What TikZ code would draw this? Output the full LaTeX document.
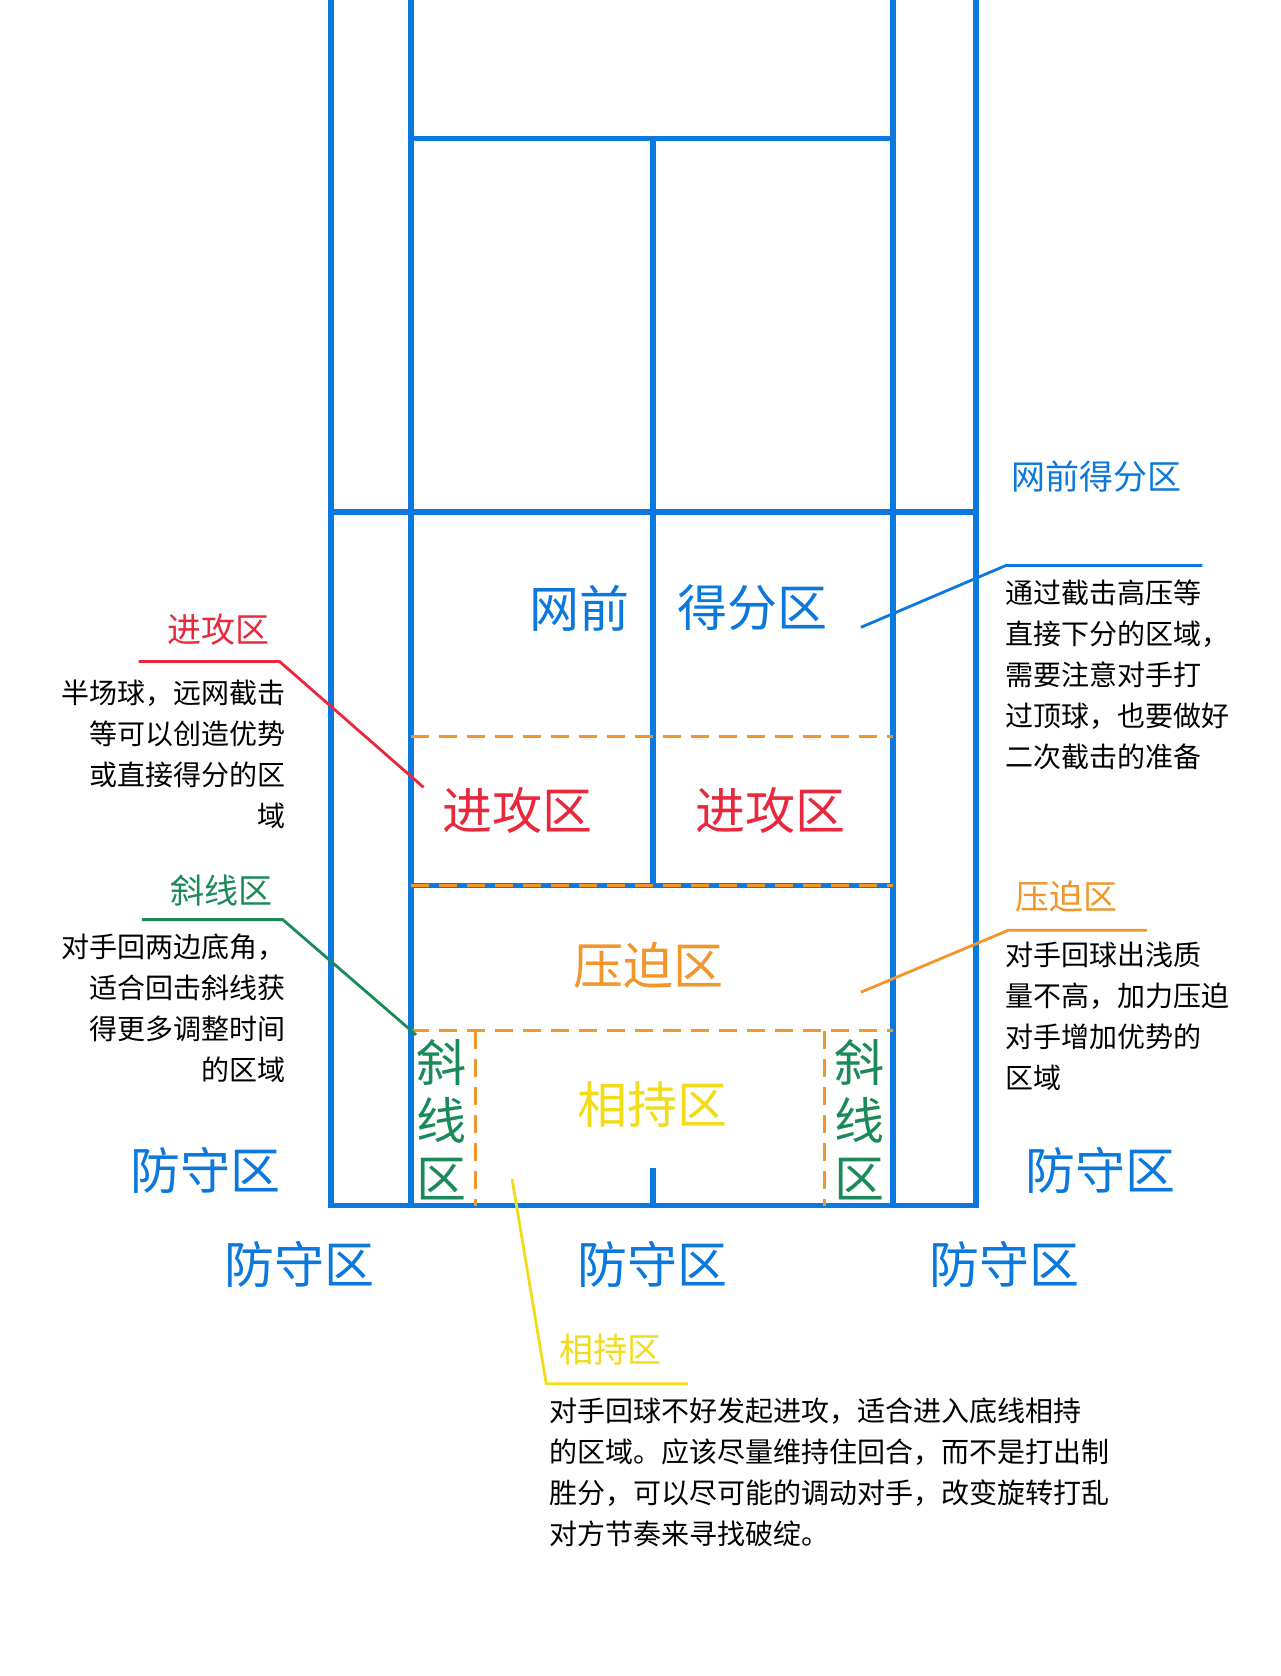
\documentclass[tikz,border=0pt]{standalone}
\usepackage{fontspec}
\setmainfont{Noto Sans CJK SC}
\usetikzlibrary{positioning}
\definecolor{courtblue}{HTML}{0A78DC}
\definecolor{atkred}{HTML}{E8283C}
\definecolor{diaggreen}{HTML}{1A8A5A}
\definecolor{pressorange}{HTML}{F0962A}
\definecolor{holdyellow}{HTML}{F2DC1A}
\begin{document}
\begin{tikzpicture}[x=0.5333pt,y=-0.5333pt]
                    \tikzstyle{court}=[draw=courtblue,line width=2.8pt]
                    \tikzstyle{zone}=[dash pattern=on 9pt off 5pt,line width=1.6pt]
                    \tikzstyle{big}=[inner sep=0,font=\fontsize{25}{25}\selectfont]
                    \tikzstyle{mid}=[inner sep=0,font=\fontsize{17}{17}\selectfont]
                    \tikzstyle{desc}=[inner sep=0,font=\fontsize{14}{20.5}\selectfont]
                    \tikzstyle{lead}=[line width=1.4pt]
                    \useasboundingbox[fill=white] (0,0) rectangle (1200,1571);
                    {
                        % court lines
                        \draw[court] (310,0) -- (310,1130) -- (915,1130) -- (915,0);
                        \draw[court] (385,0) -- (385,1130);
                        \draw[court] (837,0) -- (837,1130);
                        \draw[court] (385,130) -- (837,130);
                        \draw[court] (310,480) -- (915,480);
                        \draw[court] (612,130) -- (612,830);
                        \draw[court] (612,1095) -- (612,1130);
                        \draw[court] (385,830) -- (837,830);

                        % zone borders
                        \draw[zone,pressorange] (385,690) -- (837,690);
                        \draw[zone,pressorange] (385,830) -- (837,830);
                        \draw[zone,pressorange] (385,966) -- (837,966);
                        \draw[zone,pressorange] (446,966) -- (446,1130);
                        \draw[zone,pressorange] (773,966) -- (773,1130);

                        % zone names on the court
                        \node[big,text=courtblue] (net1) at (543,570) {网前};
                        \node[big,text=courtblue] (net2) at (705,570) {得分区};
                        \node[big,text=atkred] (atk1) at (485,760) {进攻区};
                        \node[big,text=atkred] (atk2) at (722,760) {进攻区};
                        \node[big,text=pressorange] (press) at (608,905) {压迫区};
                        \node[big,text=holdyellow] (hold) at (612,1035) {相持区};
                        \node[big,text=diaggreen,align=center] (diagl) at (414,1050) {斜\\[4pt]线\\[4pt]区};
                        \node[big,text=diaggreen,align=center] (diagr) at (806,1050) {斜\\[4pt]线\\[4pt]区};
                        \node[big,text=courtblue] (def1) at (193,1097) {防守区};
                        \node[big,text=courtblue] (def2) at (1032,1097) {防守区};
                        \node[big,text=courtblue] (def3) at (281,1185) {防守区};
                        \node[big,text=courtblue] (def4) at (612,1185) {防守区};
                        \node[big,text=courtblue] (def5) at (942,1185) {防守区};

                        % side labels
                        \node[mid,text=courtblue] (netlab) at (1028,447) {网前得分区};
                        \node[mid,text=atkred] (atklab) at (205,590) {进攻区};
                        \node[mid,text=diaggreen] (diaglab) at (208,835) {斜线区};
                        \node[mid,text=pressorange] (presslab) at (1000,840) {压迫区};
                        \node[mid,text=holdyellow] (holdlab) at (572,1265) {相持区};

                        \node[desc,align=left,anchor=north west] (netdesc) at (942,543) {通过截击高压等\\直接下分的区域，\\需要注意对手打\\过顶球，也要做好\\二次截击的准备};
                        \node[desc,align=right,anchor=north east] (atkdesc) at (268,637) {半场球，远网截击\\等可以创造优势\\或直接得分的区\\域};
                        \node[desc,align=right,anchor=north east] (diagdesc) at (268,875) {对手回两边底角，\\适合回击斜线获\\得更多调整时间\\的区域};
                        \node[desc,align=left,anchor=north west] (pressdesc) at (942,883) {对手回球出浅质\\量不高，加力压迫\\对手增加优势的\\区域};
                        \node[desc,align=left,anchor=north west] (holddesc) at (515,1310) {对手回球不好发起进攻，适合进入底线相持\\的区域。应该尽量维持住回合，而不是打出制\\胜分，可以尽可能的调动对手，改变旋转打乱\\对方节奏来寻找破绽。};

                        % leader lines
                        \coordinate (netend) at (807,588);
                        \coordinate (atkend) at (397,738);
                        \coordinate (diagend) at (390,970);
                        \coordinate (pressend) at (807,930);
                        \coordinate (holdend) at (480,1105);
                        \draw[lead,courtblue] (1127,530) -- (943,530) -- (netend);
                        \draw[lead,atkred] (130,620) -- (262,620) -- (atkend);
                        \draw[lead,diaggreen] (133,862) -- (265,862) -- (diagend);
                        \draw[lead,pressorange] (1075,872) -- (945,872) -- (pressend);
                        \draw[lead,holdyellow] (645,1297) -- (512,1297) -- (holdend);
                    }
\end{tikzpicture}
\end{document}
